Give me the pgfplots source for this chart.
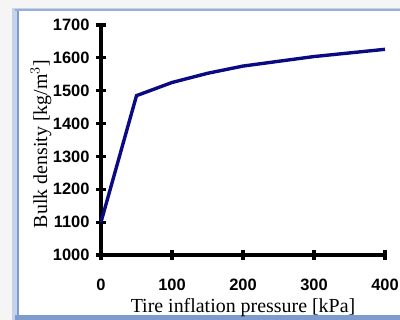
\documentclass[border=0pt]{standalone}
\usepackage{pgfplots}
\pgfplotsset{compat=1.18}
\usepackage{fontspec}
\setmainfont{Liberation Serif}
\newfontfamily\tickfont{Liberation Sans}
\definecolor{navy}{RGB}{10,10,130}
\definecolor{frameblue}{RGB}{125,155,205}
\begin{document}
\begin{tikzpicture}[x=1bp,y=1bp]
\useasboundingbox (0,0) rectangle (400,320);
\fill[gray!8] (0,0) rectangle (400,320);
\fill[frameblue!45] (12,0) rectangle (400,312);
\fill[frameblue] (15,0) rectangle (400,5);
\fill[frameblue] (17,0) rectangle (19,311);
\fill[frameblue!80] (15,309) rectangle (400,311);
\fill[white] (19,5) rectangle (400,309);
\begin{axis}[
  at={(101bp,65bp)}, anchor=origin,
  scale only axis, width=284bp, height=230bp,
  xmin=0, xmax=400, ymin=1000, ymax=1700,
  xtick={0,100,...,400}, ytick={1000,1100,...,1700},
  axis lines=left, axis line style={-, line width=3.2pt},
  tick style={black, line width=3.2pt},
  major tick length=10bp,
  tick align=center,
  ticklabel style={font=\fontsize{16.5}{18}\tickfont\bfseries},
  /pgf/number format/assume math mode=true,
  /pgf/number format/1000 sep={},
  xticklabel style={anchor=base, yshift=-30bp},
  yticklabel style={xshift=-3bp},
  xlabel={Tire inflation pressure [kPa]},
  ylabel={Bulk density [kg/m$^3$]},
  label style={font=\fontsize{20}{22}\selectfont},
  xlabel style={at={(rel axis cs:0.5,0)}, anchor=base, yshift=-57bp},
  ylabel style={at={(rel axis cs:0,0.5)}, anchor=base, yshift=54bp, xshift=-4bp},
  clip=false,
]
\addplot[navy, line width=3.4pt, no marks] coordinates {
(0,1100) (50,1485) (100,1525) (150,1553) (200,1575) (300,1604) (400,1626)
};
\end{axis}
\end{tikzpicture}
\end{document}
